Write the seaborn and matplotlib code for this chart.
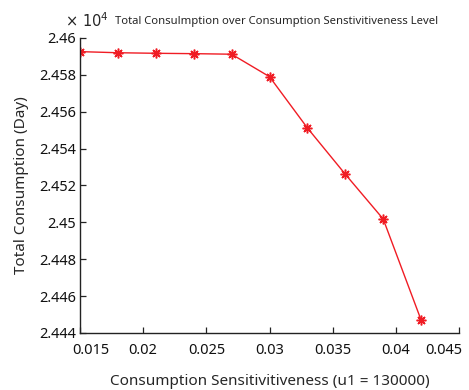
import matplotlib
matplotlib.use("Agg")
import matplotlib.pyplot as plt
import matplotlib.transforms as mtransforms
import seaborn as sns
import pandas as pd
from matplotlib.ticker import FuncFormatter

# Data (consumption values in units of 10^4)
sensitivity = [0.015, 0.018, 0.021, 0.024, 0.027, 0.030, 0.033, 0.036, 0.039, 0.042]
consumption = [2.45926, 2.45920, 2.45917, 2.45915, 2.45912, 2.45790, 2.45512, 2.45261, 2.45018, 2.44470]
x_ticks = [0.015, 0.02, 0.025, 0.03, 0.035, 0.04, 0.045]
y_ticks = [2.444, 2.446, 2.448, 2.45, 2.452, 2.454, 2.456, 2.458, 2.46]

df = pd.DataFrame({"x": sensitivity, "y": consumption})

sns.set_style("ticks")
plt.rcParams['font.family'] = ['Noto Sans', 'DejaVu Sans']

fig = plt.figure(figsize=(4.69, 3.90), dpi=100)
ax = fig.add_axes([0.1706, 0.1462, 0.8081, 0.7564])

sns.lineplot(data=df, x="x", y="y", ax=ax, color="#f01c24", linewidth=1.0,
             marker=(8, 2, 0), markersize=7, markeredgecolor="#f01c24",
             markeredgewidth=1.1)

ax.set_xlim(0.015, 0.045)
ax.set_ylim(2.444, 2.46)
ax.set_xticks(x_ticks)
ax.set_yticks(y_ticks)
ax.xaxis.set_major_formatter(FuncFormatter(lambda v, p: f"{v:g}"))
ax.yaxis.set_major_formatter(FuncFormatter(lambda v, p: f"{round(v, 4):g}"))
ax.tick_params(direction="in", length=4, width=0.9, labelsize=10.5, colors="#222222",
               labelcolor="#111111")
ax.tick_params(axis="x", pad=7)
ax.tick_params(axis="y", pad=3)
for s in ["top", "right"]:
    ax.spines[s].set_visible(False)
for s in ["left", "bottom"]:
    ax.spines[s].set_linewidth(1.0)
    ax.spines[s].set_color("#222222")

ax.set_xlabel("Consumption Sensitivitiveness (u1 = 130000)", fontsize=11, labelpad=12)
ax.set_ylabel("Total Consumption (Day)", fontsize=11, labelpad=7)

fig.text(0.139, 0.944, r"$\times\ 10^{4}$", fontsize=10.5, ha="left", va="center")
fig.text(0.245, 0.944, "Total Consulmption over Consumption Senstivitiveness Level",
         fontsize=8.1, ha="left", va="center")

fig.canvas.draw()
ticks = ax.xaxis.get_major_ticks()
first = ticks[0].label1
first.set_transform(first.get_transform() + mtransforms.ScaledTranslation(11 / 100, 0, fig.dpi_scale_trans))
last = ticks[-1].label1
last.set_transform(last.get_transform() + mtransforms.ScaledTranslation(-15 / 100, 0, fig.dpi_scale_trans))

fig.savefig("out.png", dpi=100)
